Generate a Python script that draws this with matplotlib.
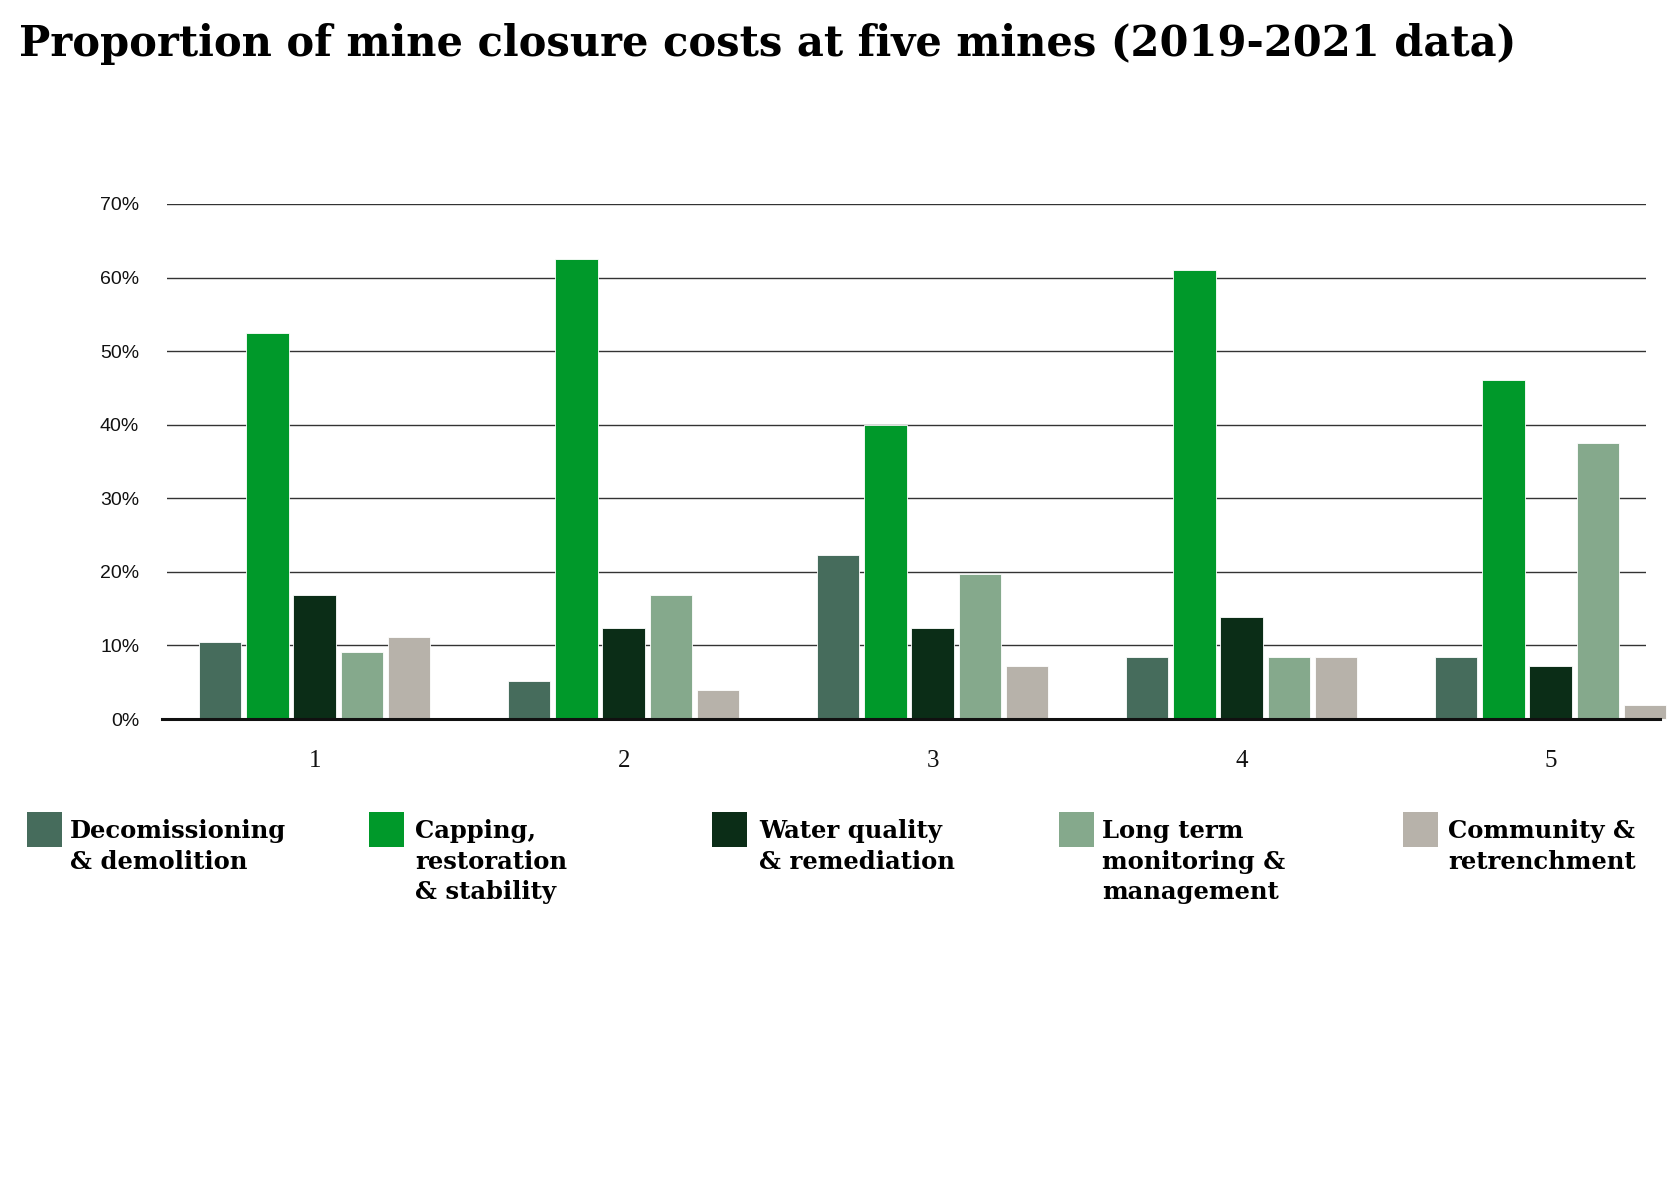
import matplotlib.pyplot as plt
from matplotlib.patches import Rectangle

# Datos (porcentaje del costo de cierre)
minas = ['1', '2', '3', '4', '5']
categorias = ['Decomissioning\n& demolition',
              'Capping,\nrestoration\n& stability',
              'Water quality\n& remediation',
              'Long term\nmonitoring &\nmanagement',
              'Community &\nretrenchment']
decomiso = [10.5, 5.2, 22.3, 8.4, 8.4]
capping = [52.4, 62.5, 39.9, 61.0, 46.1]
agua = [16.9, 12.4, 12.4, 13.8, 7.2]
largo_plazo = [9.1, 16.9, 19.7, 8.4, 37.5]
comunidad = [11.1, 3.9, 7.2, 8.4, 1.9]
yticks = [0, 10, 20, 30, 40, 50, 60, 70]

colores = ['#466c5c', '#00992a', '#0b2d17', '#85a98c', '#b7b2aa']
series = [decomiso, capping, agua, largo_plazo, comunidad]

W, H = 1667, 1183
fig = plt.figure(figsize=(W / 100, H / 100), dpi=100)
ax_izq, ax_der = 167, 1646
ax = fig.add_axes([ax_izq / W, 1 - 719 / H, (ax_der - ax_izq) / W, (719 - 204) / H])

paso = 0.153
ancho = 0.1375
x = list(range(len(minas)))
for k, (vals, col) in enumerate(zip(series, colores)):
    pos = [xi + (k - 2) * paso for xi in x]
    ax.bar(pos, vals, width=ancho, color=col, edgecolor='white',
           linewidth=0.6, clip_on=False, zorder=3)

ax.set_xlim(-0.478, 4.309)
ax.set_ylim(0, 70)

# Líneas de la grilla
for yv in yticks[1:]:
    ax.axhline(yv, color='#333333', linewidth=1, zorder=1)
# Eje en 0 (un poco más largo que la grilla)
ancho_px = ax_der - ax_izq
ax.plot([(162 - ax_izq) / ancho_px, (1660 - ax_izq) / ancho_px], [0, 0],
        transform=ax.transAxes, color='#111111', linewidth=2.2,
        clip_on=False, zorder=4)

for s in ax.spines.values():
    s.set_visible(False)

ax.set_yticks(yticks)
ax.set_yticklabels([f'{v}%' for v in yticks], fontfamily='Liberation Sans',
                   fontsize=14, color='#111111')
ax.set_xticks(x)
ax.set_xticklabels(minas, fontfamily='Liberation Serif', fontsize=18,
                   color='#111111')
ax.tick_params(axis='y', length=0, pad=20)
ax.tick_params(axis='x', length=0, pad=22)

# Título
fig.text(19 / W, 1 - 56 / H,
         'Proportion of mine closure costs at five mines (2019-2021 data)',
         fontfamily='DejaVu Serif', fontweight='bold', fontsize=30,
         va='baseline', ha='left', color='#000000')

# Leyenda manual
cuadros_x = [27, 369, 712, 1059, 1403]
texto_x = [70, 415, 759, 1102, 1448]
for cx, tx, col, lab in zip(cuadros_x, texto_x, colores, categorias):
    fig.add_artist(Rectangle((cx / W, 1 - 847 / H), 35 / W, 35 / H,
                             transform=fig.transFigure, facecolor=col,
                             edgecolor='none'))
    fig.text(tx / W, 1 - 819 / H, lab, fontfamily='DejaVu Serif',
             fontweight='bold', fontsize=17.5, va='top', ha='left',
             linespacing=1.35, color='#000000')

plt.savefig('out.png', dpi=100)
